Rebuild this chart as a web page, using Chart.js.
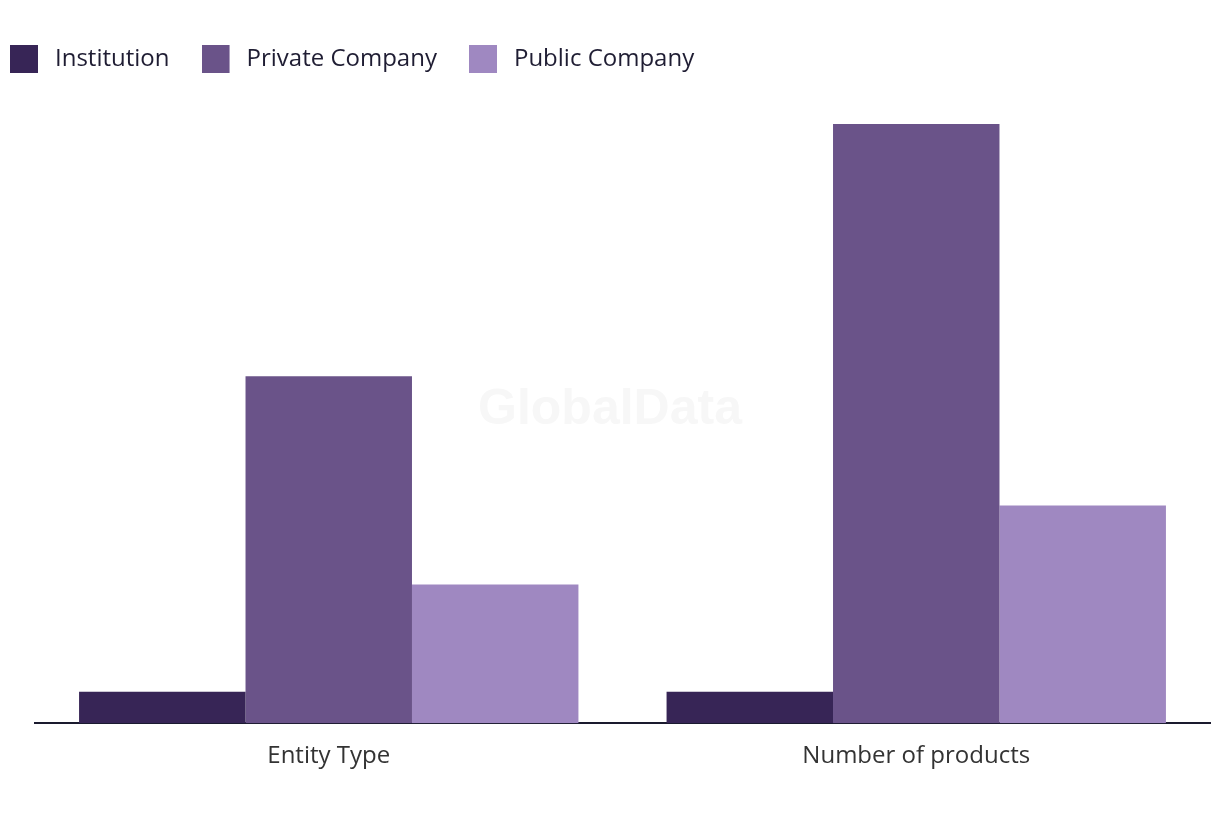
<!DOCTYPE html>
<html>
<head>
<meta charset="utf-8">
<script src="https://cdn.jsdelivr.net/npm/chart.js@4"></script>
<style>
  html, body { margin: 0; padding: 0; background: #fff; }
  #wrap { width: 1220px; height: 820px; }
</style>
</head>
<body>
<div id="wrap"><canvas id="graficaEntidades"></canvas></div>
<script>
const categorias = ['Entity Type', 'Number of products'];
const institution = [1, 1];
const privateCompany = [11, 19];
const publicCompany = [4.4, 6.9];
const colores = ['#372556', '#6a5389', '#9f88c1'];

// cuadro de la leyenda con un hueco a la derecha
function cuadroLeyenda(color) {
    const cv = document.createElement('canvas');
    cv.width = 33;
    cv.height = 28;
    const c = cv.getContext('2d');
    c.fillStyle = color;
    c.fillRect(0, 0, 28, 28);
    return cv;
}
const cuadros = colores.map(cuadroLeyenda);

// marca de agua en el centro
const marcaAgua = {
    id: 'marcaAgua',
    afterLayout(chart) {
        // la leyenda arranca pegada al borde izquierdo
        chart.legend.left = -22;
    },
    beforeDatasetsDraw(chart) {
        const c = chart.ctx;
        c.save();
        c.font = 'bold 50px "Liberation Sans", Arial, sans-serif';
        c.fillStyle = '#f7f7f7';
        c.textAlign = 'center';
        c.textBaseline = 'middle';
        c.fillText('GlobalData', chart.width / 2, chart.height / 2);
        c.restore();
    }
};

const ctx = document.getElementById('graficaEntidades').getContext('2d');
new Chart(ctx, {
    type: 'bar',
    data: {
        labels: categorias,
        datasets: [
            { label: 'Institution', data: institution, backgroundColor: colores[0] },
            { label: 'Private Company', data: privateCompany, backgroundColor: colores[1] },
            { label: 'Public Company', data: publicCompany, backgroundColor: colores[2] }
        ]
    },
    options: {
        responsive: true,
        maintainAspectRatio: false,
        animation: false,
        categoryPercentage: 0.85,
        barPercentage: 1,
        layout: { padding: { left: 35, right: 10, top: 15, bottom: 38 } },
        plugins: {
            legend: {
                position: 'top',
                align: 'start',
                labels: {
                    usePointStyle: true,
                    pointStyleWidth: 33,
                    boxHeight: 28,
                    padding: 32,
                    color: '#1f1d33',
                    font: { family: 'Open Sans', size: 24 },
                    generateLabels: (chart) =>
                        Chart.defaults.plugins.legend.labels.generateLabels(chart)
                            .map((item, i) => ({ ...item, pointStyle: cuadros[i] }))
                }
            },
            tooltip: { enabled: false }
        },
        scales: {
            x: {
                grid: { display: false },
                border: { display: true, color: '#1a1a2e', width: 2 },
                ticks: { color: '#333333', padding: 11, font: { family: 'Open Sans', size: 24 } }
            },
            y: {
                display: false,
                beginAtZero: true,
                max: 20.36
            }
        }
    },
    plugins: [marcaAgua]
});
</script>
</body>
</html>
